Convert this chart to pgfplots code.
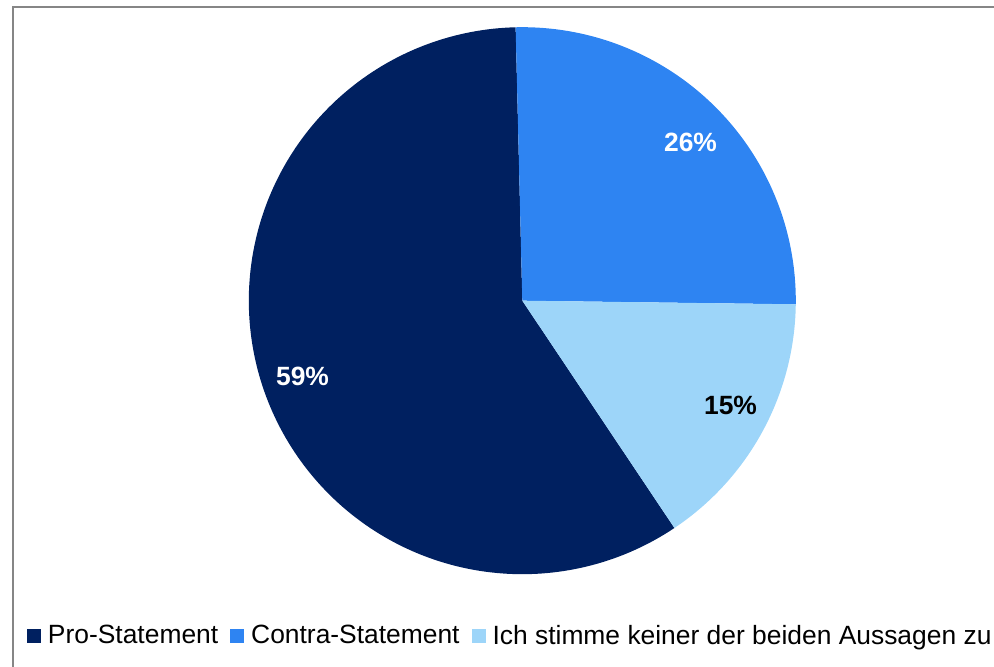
\documentclass[border=0pt]{standalone}
\usepackage{fontspec}
\setmainfont{Liberation Sans}
\usepackage{pgfplots}
\usepackage{pgfplotstable}
\pgfplotsset{compat=1.18}
\definecolor{proc}{RGB}{0,32,96}
\definecolor{conc}{RGB}{46,132,242}
\definecolor{neuc}{RGB}{157,213,249}
\definecolor{framec}{RGB}{134,134,134}

\pgfplotstableread{
label value
Pro 59.0
Contra 25.6
Neutral 15.4
}\piedata
\pgfplotstablegetelem{0}{value}\of\piedata \edef\vPro{\pgfplotsretval}
\pgfplotstablegetelem{1}{value}\of\piedata \edef\vCon{\pgfplotsretval}
\pgfplotstablegetelem{2}{value}\of\piedata \edef\vNeu{\pgfplotsretval}
\pgfmathsetmacro{\aS}{91.4}
\pgfmathsetmacro{\aA}{\aS-3.6*\vCon}
\pgfmathsetmacro{\aB}{\aA-3.6*\vNeu}
\pgfmathsetmacro{\aE}{\aB-3.6*\vPro}
\def\cx{522.3}\def\cy{366.3}\def\rr{273.5}

\begin{document}
\begin{tikzpicture}
\begin{axis}[x=0.5pt, y=0.5pt, xmin=0, xmax=994, ymin=0, ymax=667,
  scale only axis, hide axis, clip=false, enlargelimits=false,
  samples=180,
  legend columns=-1,
  legend style={at={(axis cs:27,31)}, anchor=west, draw=none, fill=none,
    inner sep=0pt, outer sep=0pt,
    font=\fontsize{13.2}{15}\selectfont,
    /tikz/every odd column/.append style={column sep=3.5pt},
    /tikz/every even column/.append style={column sep=6pt},
    nodes={inner sep=0pt}},
  legend image code/.code={\fill[#1] (0pt,-3.5pt) rectangle (7pt,3.5pt);},
]
\addplot[fill=proc, draw=none, domain=\aE:\aB] ({\cx+\rr*cos(x)},{\cy+\rr*sin(x)}) -- (axis cs:\cx,\cy) -- cycle;
\addlegendentry{Pro-Statement}
\addplot[fill=conc, draw=none, domain=\aA:\aS] ({\cx+\rr*cos(x)},{\cy+\rr*sin(x)}) -- (axis cs:\cx,\cy) -- cycle;
\addlegendentry{Contra-Statement}
\addplot[fill=neuc, draw=none, domain=\aB:\aA] ({\cx+\rr*cos(x)},{\cy+\rr*sin(x)}) -- (axis cs:\cx,\cy) -- cycle;
\addlegendentry{Ich stimme keiner der beiden Aussagen zu}
\node[white, font=\fontsize{13.2}{15}\selectfont\bfseries, inner sep=0pt] at (axis cs:690.5,524.5) {26\%};
\node[black, font=\fontsize{13.2}{15}\selectfont\bfseries, inner sep=0pt] at (axis cs:730.5,261.5) {15\%};
\node[white, font=\fontsize{13.2}{15}\selectfont\bfseries, inner sep=0pt] at (axis cs:302.5,290.3) {59\%};
\path (axis cs:0,0) rectangle (axis cs:994,667);
\draw[overlay, line width=1pt, framec] (axis cs:13,-20) -- (axis cs:13,660) -- (axis cs:1010,660);
\end{axis}
\end{tikzpicture}
\end{document}
